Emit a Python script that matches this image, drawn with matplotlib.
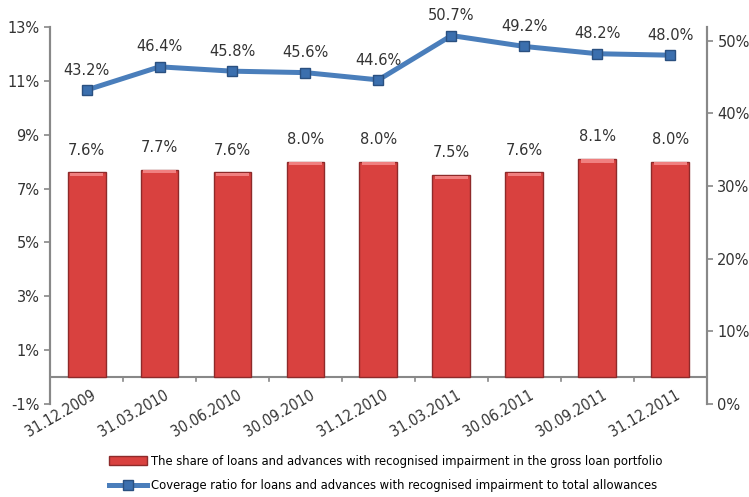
import matplotlib.pyplot as plt
import matplotlib.transforms as mtransforms
import numpy as np

dates = ['31.12.2009', '31.03.2010', '30.06.2010', '30.09.2010', '31.12.2010',
         '31.03.2011', '30.06.2011', '30.09.2011', '31.12.2011']
share = [7.6, 7.7, 7.6, 8.0, 8.0, 7.5, 7.6, 8.1, 8.0]
coverage = [43.2, 46.4, 45.8, 45.6, 44.6, 50.7, 49.2, 48.2, 48.0]

share_label = 'The share of loans and advances with recognised impairment in the gross loan portfolio'
coverage_label = 'Coverage ratio for loans and advances with recognised impairment to total allowances'

plt.rcParams['font.family'] = ['DejaVu Sans']
fig = plt.figure(figsize=(7.49, 4.97), dpi=100)
ax = fig.add_axes([0.0668, 0.187, 0.877, 0.759])
ax2 = ax.twinx()

x = np.arange(len(dates))
bars = ax.bar(x, share, width=0.52, color='#d9413f', edgecolor='#8e2a2a', linewidth=1.0,
              label=share_label, zorder=2)
# lighter strip on top of each bar
ax.bar(x, [0.12] * len(x), bottom=np.array(share) - 0.14, width=0.46, color='#f08080',
       linewidth=0, zorder=3)
for xi, v in zip(x, share):
    ax.text(xi, v + 0.55, f'{v:.1f}%', ha='center', va='bottom', fontsize=10.5, color='#333333')

ax.set_xlim(-0.5, len(x) - 0.5)
ax.set_ylim(-1, 13)
ax.set_yticks(range(-1, 14, 2))
ax.set_yticklabels([f'{t}%' for t in range(-1, 14, 2)], fontsize=10.5, color='#333333')

ax2.plot(x, coverage, color='#4a7ebb', linewidth=3.6, marker='s', markersize=6.5,
         markerfacecolor='#3b6fae', markeredgecolor='#2a5080', label=coverage_label, zorder=4)
for xi, v in zip(x, coverage):
    ax2.text(xi, v + 1.7, f'{v:.1f}%', ha='center', va='bottom', fontsize=10.5, color='#333333')
ax2.set_ylim(0, 51.9)
ax2.set_yticks(range(0, 51, 10))
ax2.set_yticklabels([f'{t}%' for t in range(0, 51, 10)], fontsize=10.5, color='#333333')

for a in (ax, ax2):
    a.spines['top'].set_visible(False)
    a.spines['bottom'].set_visible(False)
    a.spines['left'].set_color('#888888')
    a.spines['right'].set_color('#888888')
    a.spines['left'].set_linewidth(1.5)
    a.spines['right'].set_linewidth(1.5)
    a.tick_params(axis='y', color='#888888', length=4, width=1.2)

ax.axhline(0, color='#888888', linewidth=1.5, zorder=1)
ax.set_xticks([])
trans = mtransforms.blended_transform_factory(ax.transData, ax.transAxes)
for xi, d in zip(x, dates):
    ax.text(xi + 0.06, 0.045, d, transform=trans, rotation=30, ha='right', va='top',
            rotation_mode='anchor', fontsize=11, stretch='condensed', color='#333333')
for b in np.arange(0.5, len(x) - 1, 1):
    ax.plot([b, b], [0, -0.15], color='#888888', linewidth=1.2, clip_on=False)

fig.legend([bars, ax2.get_lines()[0]], [share_label, coverage_label], loc='center',
           bbox_to_anchor=(0.515, 0.047), frameon=False,
           prop={'family': 'DejaVu Sans', 'stretch': 'condensed', 'size': 9.3},
           handlelength=2.9, labelspacing=0.85, handletextpad=0.3)

fig.savefig('out.png', dpi=100)
